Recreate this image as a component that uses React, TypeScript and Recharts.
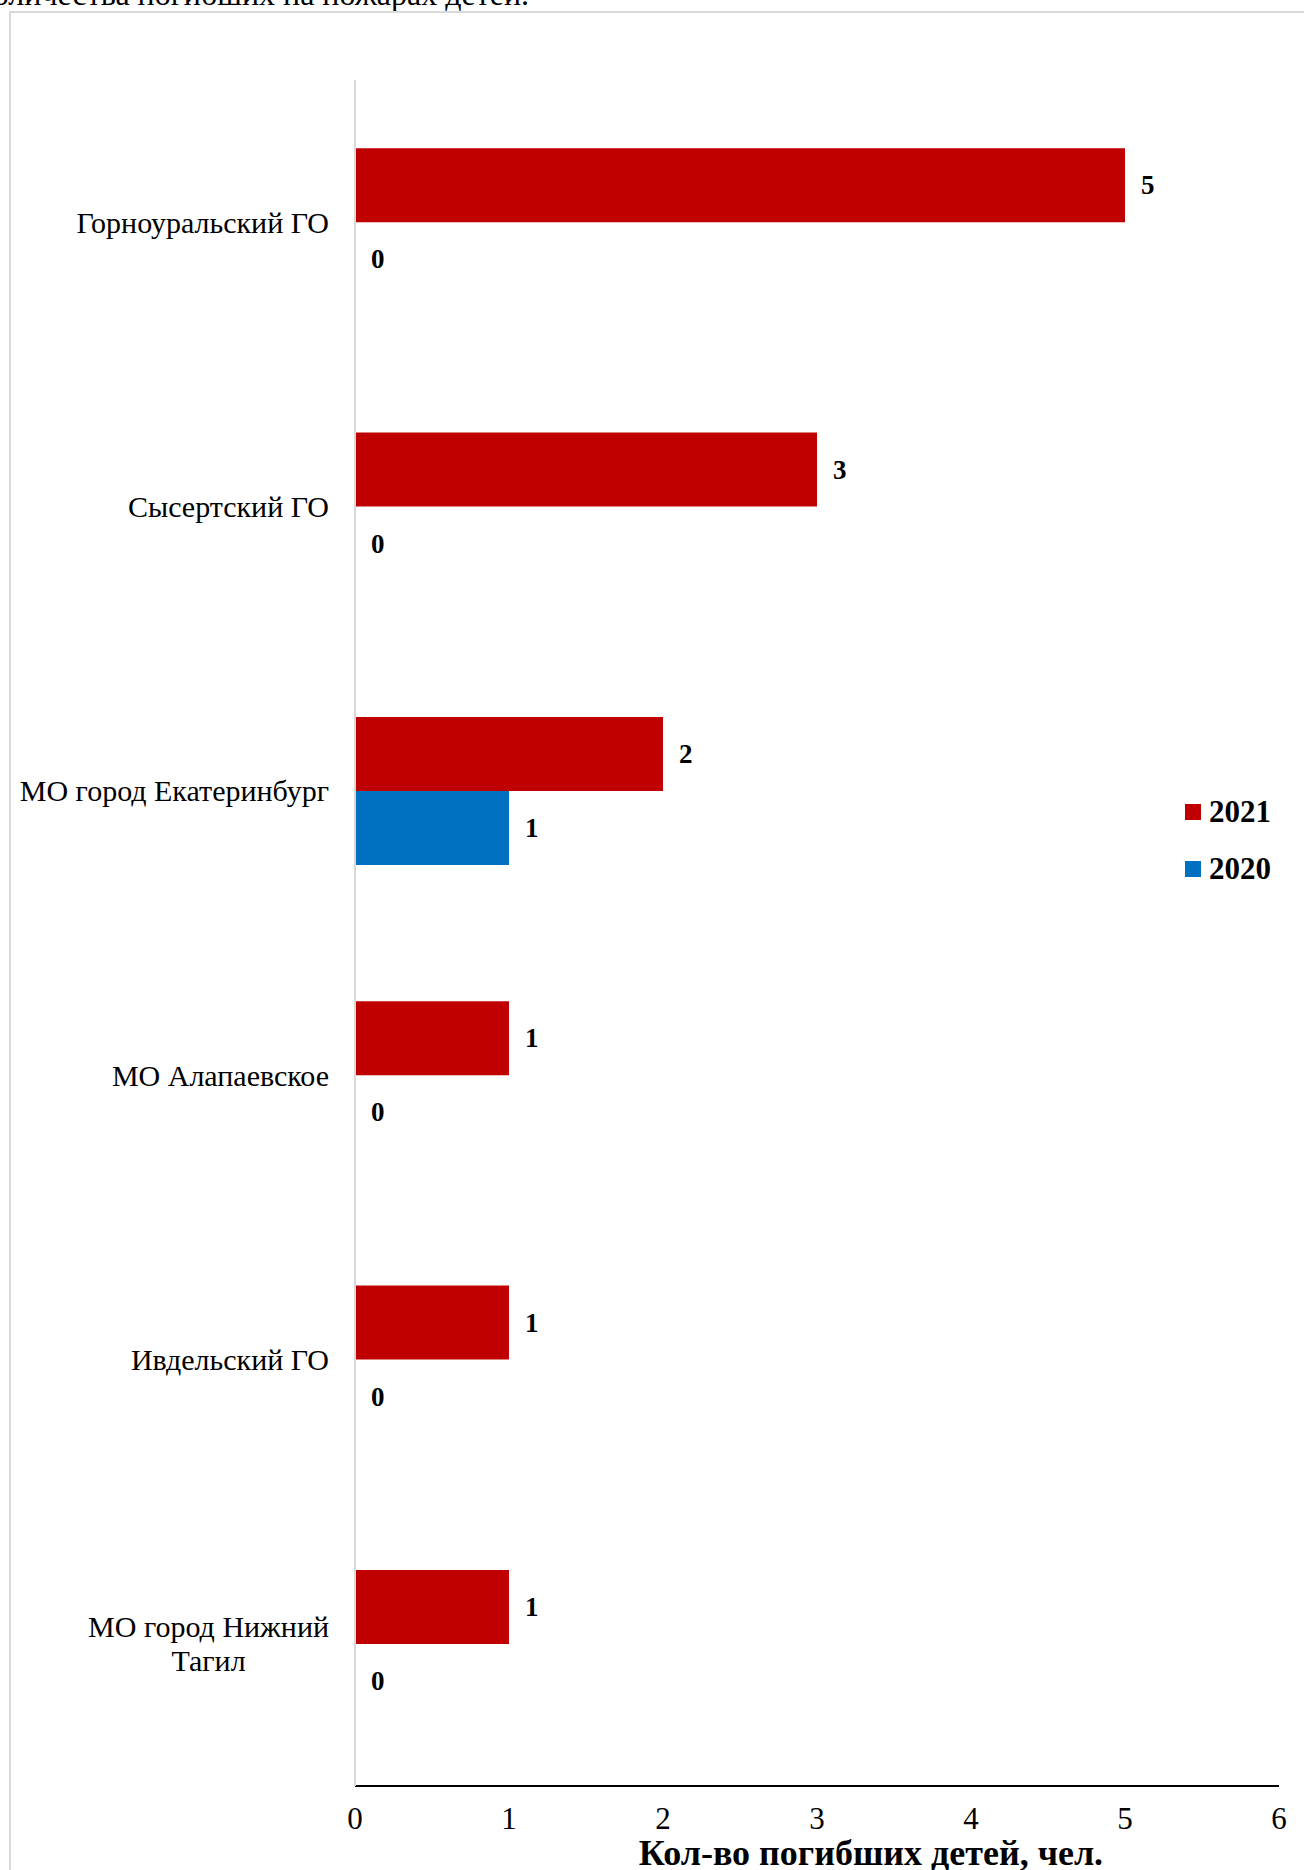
import React from "react";
import { BarChart, Bar, XAxis, YAxis, LabelList } from "recharts";

const categories = [
  "Горноуральский ГО",
  "Сысертский ГО",
  "МО город Екатеринбург",
  "МО Алапаевское",
  "Ивдельский ГО",
  "МО город Нижний\nТагил",
];
const values2021 = [5, 3, 2, 1, 1, 1];
const values2020 = [0, 0, 1, 0, 0, 0];
const xTicks = [0, 1, 2, 3, 4, 5, 6];
const seriesNames = ["2021", "2020"];
const seriesColors = ["#C00000", "#0070C0"];
const xAxisTitle = "Кол-во погибших детей, чел.";
const headerText = "количества погибших на пожарах детей.";

const data = categories.map((c, i) => ({ name: c, y2021: values2021[i], y2020: values2020[i] }));

const FONT = '"Liberation Serif", "Times New Roman", serif';

let ctx: CanvasRenderingContext2D | null = null;
const measure = (t: string, font: string) => {
  if (!ctx) ctx = document.createElement("canvas").getContext("2d");
  if (!ctx) return t.length * 14;
  ctx.font = font;
  return ctx.measureText(t).width;
};

const CAT_SIZE = 30;
const CategoryTick = (props: any) => {
  const { x, y, payload } = props;
  const lines = String(payload.value).split("\n");
  const font = `${CAT_SIZE}px "Liberation Serif"`;
  const lh = 34;
  const maxW = Math.max(...lines.map((l) => measure(l, font)));
  const startY = y - ((lines.length - 1) * lh) / 2;
  if (lines.length === 1) {
    return (
      <text x={x} y={y} textAnchor="end" dominantBaseline="central" fontSize={CAT_SIZE} fontFamily={FONT} fill="#000">
        {lines[0]}
      </text>
    );
  }
  return (
    <g>
      {lines.map((l, i) => (
        <text
          key={i}
          x={x - maxW / 2}
          y={startY + i * lh}
          textAnchor="middle"
          dominantBaseline="central"
          fontSize={CAT_SIZE}
          fontFamily={FONT}
          fill="#000"
        >
          {l}
        </text>
      ))}
    </g>
  );
};

const NumberTick = (props: any) => {
  const { x, y, payload } = props;
  return (
    <text x={x} y={y} textAnchor="middle" dominantBaseline="hanging" fontSize={31} fontFamily={FONT} fill="#000">
      {payload.value}
    </text>
  );
};

const ValueLabel = (props: any) => {
  const { x, y, width, height, value } = props;
  return (
    <text
      x={Number(x) + Math.max(0, Number(width)) + 16}
      y={Number(y) + Number(height) / 2}
      textAnchor="start"
      dominantBaseline="central"
      fontSize={27}
      fontWeight="bold"
      fontFamily={FONT}
      fill="#000"
    >
      {String(value)}
    </text>
  );
};

export default function App() {
  return (
    <div
      style={{
        position: "absolute",
        left: 0,
        top: 0,
        width: 1304,
        height: 1870,
        overflow: "hidden",
        background: "#fff",
        fontFamily: FONT,
      }}
    >
      <svg style={{ position: "absolute", left: 0, top: 0 }} width={1304} height={30}>
        <text x={529} y={5} textAnchor="end" fontSize={32} fontFamily={FONT} fill="#000">
          {headerText}
        </text>
      </svg>
      <div
        style={{
          position: "absolute",
          left: 9,
          top: 11,
          width: 1400,
          height: 2000,
          border: "2px solid #d9d9d9",
        }}
      />
      <div style={{ position: "absolute", left: 0, top: 0 }}>
        <BarChart
          width={1304}
          height={1870}
          data={data}
          layout="vertical"
          margin={{ top: 80, right: 25, bottom: 0, left: 0 }}
          barGap={0}
          barCategoryGap="24%"
          style={{ fontFamily: FONT }}
        >
          <XAxis
            type="number"
            domain={[0, 6]}
            ticks={xTicks}
            interval={0}
            height={84}
            axisLine={{ stroke: "#000", strokeWidth: 2 }}
            tickLine={false}
            tickSize={0}
            tickMargin={21}
            tick={<NumberTick />}
            label={{
              content: (p: any) => {
                const vb = p.viewBox || { x: 355, width: 924 };
                return (
                  <text
                    x={vb.x + vb.width / 2 + 54}
                    y={1865}
                    textAnchor="middle"
                    fontSize={36}
                    fontWeight="bold"
                    fontFamily={FONT}
                    fill="#000"
                  >
                    {xAxisTitle}
                  </text>
                );
              },
            }}
          />
          <YAxis
            type="category"
            dataKey="name"
            width={355}
            axisLine={{ stroke: "#d9d9d9", strokeWidth: 2 }}
            tickLine={false}
            tickSize={0}
            tickMargin={26}
            tick={<CategoryTick />}
            interval={0}
          />
          <Bar
            dataKey="y2021"
            name={seriesNames[0]}
            fill={seriesColors[0]}
            minPointSize={0.01}
            isAnimationActive={false}
          >
            <LabelList dataKey="y2021" content={<ValueLabel />} />
          </Bar>
          <Bar
            dataKey="y2020"
            name={seriesNames[1]}
            fill={seriesColors[1]}
            minPointSize={0.01}
            isAnimationActive={false}
          >
            <LabelList dataKey="y2020" content={<ValueLabel />} />
          </Bar>
        </BarChart>
      </div>
      <div style={{ position: "absolute", left: 1185, top: 783, fontFamily: FONT }}>
        {seriesNames.map((n, i) => (
          <div key={n} style={{ display: "flex", alignItems: "center", height: 57 }}>
            <div style={{ width: 16, height: 16, background: seriesColors[i], marginRight: 8 }} />
            <span style={{ fontSize: 31, fontWeight: "bold", color: "#000", lineHeight: "31px" }}>{n}</span>
          </div>
        ))}
      </div>
    </div>
  );
}
